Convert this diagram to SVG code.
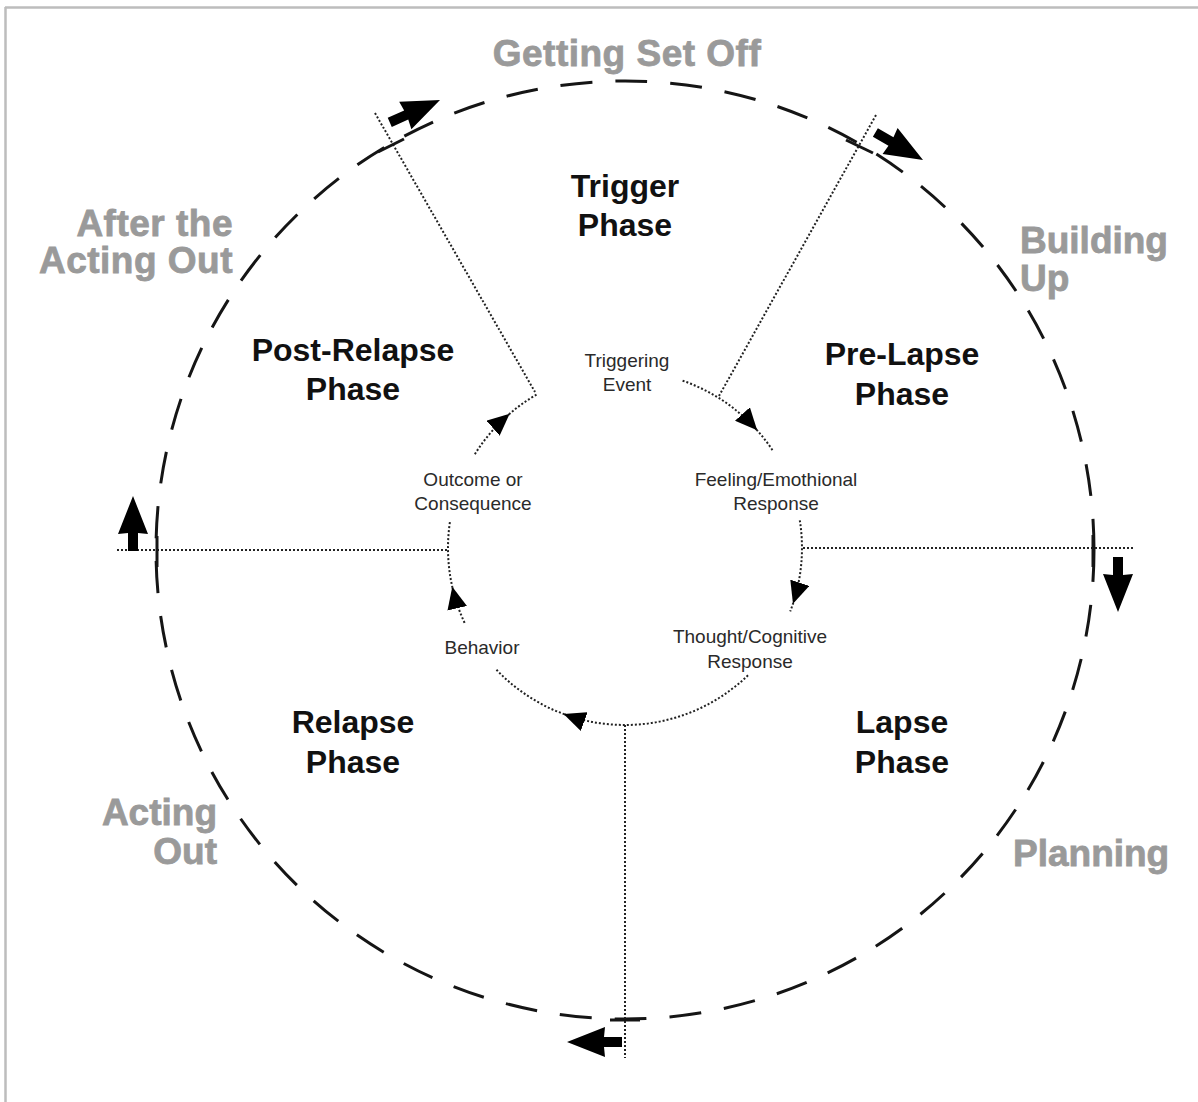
<svg xmlns="http://www.w3.org/2000/svg" xmlns:xlink="http://www.w3.org/1999/xlink" width="1198" height="1102" viewBox="0 0 1198 1102">
<style>
.big{fill:none;stroke:#151515;stroke-width:3;stroke-dasharray:32 23}
.tick{stroke:#151515;stroke-width:3;fill:none}
.dot{fill:none;stroke:#222;stroke-width:2;stroke-dasharray:2 2}
.arc{fill:none;stroke:#222;stroke-width:2;stroke-dasharray:2 2}
.arcm{fill:none;stroke:#222;stroke-width:2;stroke-dasharray:2 2;marker-end:url(#tri)}
.gray{font-family:"Liberation Sans",Arial,sans-serif;font-weight:bold;font-size:37px;fill:#9a9a9a;stroke:#9a9a9a;stroke-width:0.8}
.phase{font-family:"Liberation Sans",Arial,sans-serif;font-weight:bold;font-size:32px;fill:#111;text-anchor:middle}
.small{font-family:"Liberation Sans",Arial,sans-serif;font-size:19px;fill:#2a2a2a;text-anchor:middle}
.blk{fill:#000}
</style>
<defs>
<marker id="tri" viewBox="0 0 22 20" refX="21" refY="10" markerWidth="22" markerHeight="20" markerUnits="userSpaceOnUse" orient="auto">
<path d="M0,0 L22,10 L0,20 Z" fill="#000"/>
</marker>
<path id="blkarrow" d="M0,0 L-38,-15 L-37,-5 L-55,-5 L-55,5 L-37,5 L-38,15 Z"/>
</defs>
<rect x="0" y="0" width="1198" height="1102" fill="#fff"/>
<g id="frame">
<line x1="5" y1="7.5" x2="1198" y2="7.5" stroke="#bdbdbd" stroke-width="2.5"/>
<line x1="5.5" y1="7" x2="5.5" y2="1102" stroke="#bdbdbd" stroke-width="2.5"/>
</g>
<g id="connectors">
<circle class="big" cx="625" cy="550" r="469"/>
<line class="dot" x1="117" y1="550" x2="448" y2="550"/>
<line class="dot" x1="803" y1="548" x2="1133" y2="548"/>
<line class="dot" x1="625" y1="725" x2="625" y2="1058"/>
<line class="dot" x1="375" y1="113" x2="535" y2="392"/>
<line class="dot" x1="876" y1="115" x2="719" y2="396"/>
<line class="tick" x1="157" y1="536" x2="157" y2="567"/>
<line class="tick" x1="1093" y1="535" x2="1093" y2="567"/>
<line class="tick" x1="610" y1="1020" x2="640" y2="1020"/>
<line class="tick" x1="378" y1="152" x2="404" y2="139"/>
<line class="tick" x1="846" y1="140" x2="873" y2="153"/>
<path class="arcm" d="M682.6,380.7 A177,177 0 0 1 756.5,429.6"/>
<path class="arc" d="M756.5,429.6 A177,177 0 0 1 773.4,451.6"/>
<path class="arcm" d="M799.8,520.3 A177,177 0 0 1 793.3,602.7"/>
<path class="arc" d="M793.3,602.7 A177,177 0 0 1 790.2,611.4"/>
<path class="arcm" d="M748.0,675.3 A177,177 0 0 1 564.5,714.3"/>
<path class="arc" d="M564.5,714.3 A177,177 0 0 1 495.5,668.7"/>
<path class="arcm" d="M464.6,622.8 A177,177 0 0 1 452.5,587.8"/>
<path class="arc" d="M452.5,587.8 A177,177 0 0 1 450.2,520.3"/>
<path class="arcm" d="M474.9,454.2 A177,177 0 0 1 508.9,414.4"/>
<path class="arc" d="M508.9,414.4 A177,177 0 0 1 536.5,394.7"/>
<use class="blk" xlink:href="#blkarrow" transform="translate(440,100) rotate(-24)"/>
<use class="blk" xlink:href="#blkarrow" transform="translate(923,160) rotate(30)"/>
<use class="blk" xlink:href="#blkarrow" transform="translate(133,496) rotate(-90)"/>
<use class="blk" xlink:href="#blkarrow" transform="translate(1118,612) rotate(90)"/>
<use class="blk" xlink:href="#blkarrow" transform="translate(567,1042) rotate(180)"/>
</g>
<g id="stage-getting-set-off"><text class="gray" x="627" y="66" text-anchor="middle" font-size="39" letter-spacing="0.5">Getting Set Off</text></g>
<g id="stage-after"><text class="gray" text-anchor="end" letter-spacing="0.5"><tspan x="233" y="236">After the</tspan><tspan x="233" y="273">Acting Out</tspan></text></g>
<g id="stage-building"><text class="gray"><tspan x="1020" y="253">Building</tspan><tspan x="1020" y="291">Up</tspan></text></g>
<g id="stage-acting-out"><text class="gray" text-anchor="end"><tspan x="217" y="825">Acting</tspan><tspan x="217" y="864">Out</tspan></text></g>
<g id="stage-planning"><text class="gray" x="1013" y="866">Planning</text></g>
<g id="phase-trigger"><text class="phase"><tspan x="625" y="197">Trigger</tspan><tspan x="625" y="236">Phase</tspan></text></g>
<g id="phase-post-relapse"><text class="phase"><tspan x="353" y="361">Post-Relapse</tspan><tspan x="353" y="400">Phase</tspan></text></g>
<g id="phase-pre-lapse"><text class="phase"><tspan x="902" y="365">Pre-Lapse</tspan><tspan x="902" y="405">Phase</tspan></text></g>
<g id="phase-relapse"><text class="phase"><tspan x="353" y="733">Relapse</tspan><tspan x="353" y="773">Phase</tspan></text></g>
<g id="phase-lapse"><text class="phase"><tspan x="902" y="733">Lapse</tspan><tspan x="902" y="773">Phase</tspan></text></g>
<g id="step-triggering"><text class="small"><tspan x="627" y="367">Triggering</tspan><tspan x="627" y="391">Event</tspan></text></g>
<g id="step-outcome"><text class="small"><tspan x="473" y="486">Outcome or</tspan><tspan x="473" y="510">Consequence</tspan></text></g>
<g id="step-feeling"><text class="small"><tspan x="776" y="486">Feeling/Emothional</tspan><tspan x="776" y="510">Response</tspan></text></g>
<g id="step-thought"><text class="small"><tspan x="750" y="643">Thought/Cognitive</tspan><tspan x="750" y="668">Response</tspan></text></g>
<g id="step-behavior"><text class="small" x="482" y="654">Behavior</text></g>
</svg>
